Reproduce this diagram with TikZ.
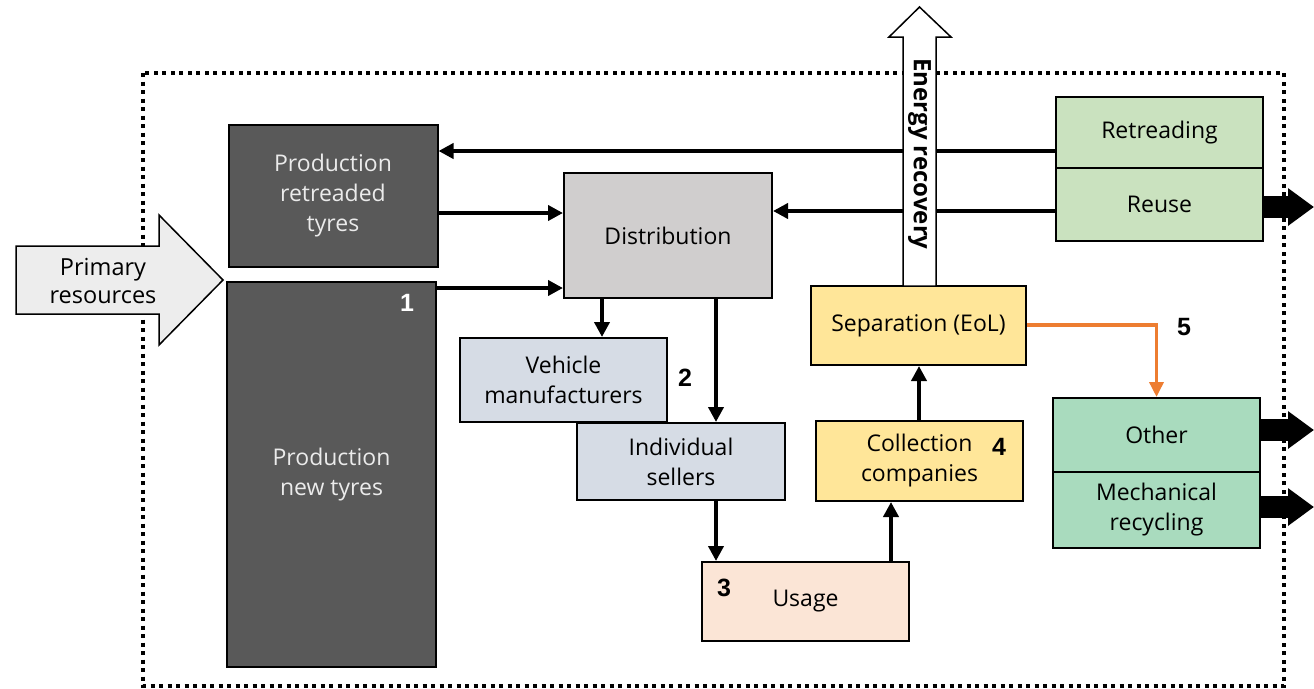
\documentclass[tikz,border=0pt]{standalone}
\usepackage{fontspec}
\setmainfont{Open Sans}
\newfontfamily\numfont{Liberation Sans}
\usetikzlibrary{arrows.meta}
\definecolor{darkbox}{HTML}{595959}
\definecolor{distcol}{HTML}{D0CECE}
\definecolor{bluegray}{HTML}{D6DCE5}
\definecolor{usagecol}{HTML}{FBE5D6}
\definecolor{yellowcol}{HTML}{FFE699}
\definecolor{lightgreen}{HTML}{CAE2BF}
\definecolor{mint}{HTML}{A9DBBE}
\definecolor{primcol}{HTML}{EDEDED}
\definecolor{orangecol}{HTML}{ED7D31}
\begin{document}
\begin{tikzpicture}[x=1pt,y=-1pt,
  box/.style={draw=black, line width=2pt, inner sep=0pt, align=center,
    font=\fontsize{23}{30}\selectfont},
  darkb/.style={box, fill=darkbox, text=white!92!black},
  conn/.style={line width=4pt, -{Triangle[length=15pt,width=15pt]}},
  numlab/.style={font=\numfont\bfseries\fontsize{25}{25}\selectfont, inner sep=0pt},
  bigout/.style={line width=22pt, -{Triangle[length=26pt,width=36pt]}}
]
\useasboundingbox (0,0) rectangle (1314,688);

% system boundary
\draw[line width=4pt, dash pattern=on 4pt off 4.5pt] (143,73) rectangle (1284,686);

% primary resources arrow
\draw[line width=1.5pt, fill=primcol] (16,246) -- (159,246) -- (159,215) -- (223,280)
  -- (159,345) -- (159,314) -- (16,314) -- cycle;
\node[align=center, font=\fontsize{23.5}{28}\selectfont] (prim) at (103,281) {Primary\\resources};

% boxes
\node[darkb, minimum width=209pt, minimum height=142pt] (retreaded) at (333,196)
  {Production\\retreaded\\tyres};
\node[darkb, minimum width=209pt, minimum height=385pt] (newtyres) at (331.5,474.5)
  {Production\\new tyres};
\node[box, fill=distcol, minimum width=208pt, minimum height=125pt] (distribution) at (668,235.5)
  {Distribution};
\node[box, fill=bluegray, minimum width=207pt, minimum height=84pt] (vehicle) at (563.5,380)
  {Vehicle\\manufacturers};
\node[box, fill=bluegray, minimum width=208pt, minimum height=77pt] (individual) at (681,461.5)
  {Individual\\sellers};
\node[box, fill=usagecol, minimum width=207pt, minimum height=79pt] (usage) at (805.5,601.5)
  {Usage};
\node[box, fill=yellowcol, minimum width=207pt, minimum height=80pt] (collection) at (919.5,461)
  {Collection\\companies};
\node[box, fill=yellowcol, minimum width=215pt, minimum height=79pt] (separation) at (918.5,325.5)
  {Separation (EoL)};
\node[box, fill=lightgreen, minimum width=207pt, minimum height=71pt] (retreading) at (1159.5,132.5)
  {Retreading};
\node[box, fill=lightgreen, minimum width=207pt, minimum height=73pt] (reuse) at (1159.5,204.5)
  {Reuse};
\node[box, fill=mint, minimum width=207pt, minimum height=74pt] (other) at (1156.5,435)
  {Other};
\node[box, fill=mint, minimum width=207pt, minimum height=76pt] (mech) at (1156.5,510)
  {Mechanical\\recycling};

% number labels
\node[numlab, text=white] (n1) at (407,303) {1};
\node[numlab] (n2) at (685,378) {2};
\node[numlab] (n3) at (724,588) {3};
\node[numlab] (n4) at (999,447) {4};
\node[numlab] (n5) at (1184,327) {5};

% connectors
\draw[conn] (retreading.west |- 0,151) -- (retreaded.east |- 0,151);
\draw[conn] (reuse.west |- 0,211) -- (distribution.east |- 0,211);
\draw[conn] (retreaded.east |- 0,213) -- (distribution.west |- 0,213);
\draw[conn] (newtyres.east |- 0,288) -- (distribution.west |- 0,288);
\draw[conn] (distribution.south -| 602,0) -- (vehicle.north -| 602,0);
\draw[conn] (distribution.south -| 716,0) -- (individual.north -| 716,0);
\draw[conn] (individual.south -| 716,0) -- (usage.north -| 716,0);
\draw[conn] (usage.north -| 891,0) -- (collection.south -| 891,0);
\draw[conn] (collection.north -| 919,0) -- (separation.south -| 919,0);
\draw[line width=3.5pt, draw=orangecol, -{Triangle[length=15pt,width=14pt]}]
  (separation.east |- 0,325) -| (other.north);

% energy recovery arrow (drawn over the top line)
\draw[line width=1.5pt, fill=white] (903,286) -- (903,37) -- (889,37) -- (919.5,7)
  -- (951,37) -- (936,37) -- (936,286) -- cycle;
\node[rotate=-90, font=\bfseries\fontsize{24}{28}\selectfont, inner sep=0pt] (energy) at (919.5,154)
  {Energy recovery};

% outputs
\coordinate (outreuse) at (1314,207);
\coordinate (outother) at (1314,430);
\coordinate (outmech) at (1314,507);
\draw[bigout] (reuse.east |- 0,207) -- (outreuse);
\draw[bigout] (other.east |- 0,430) -- (outother);
\draw[bigout] (mech.east |- 0,507) -- (outmech);
\end{tikzpicture}
\end{document}
